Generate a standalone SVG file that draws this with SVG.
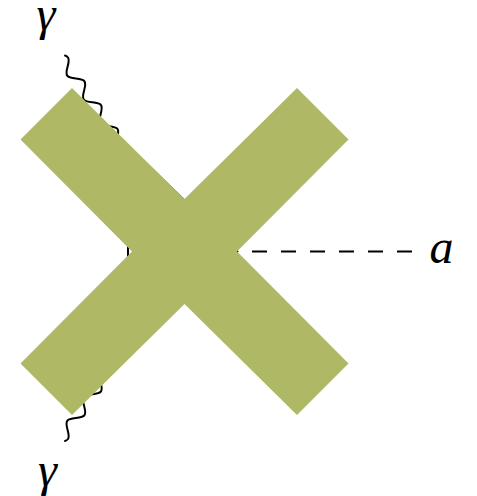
<svg xmlns="http://www.w3.org/2000/svg" width="477" height="496" viewBox="0 0 477 496">
<style>
.line{fill:none;stroke:#000;stroke-width:2;stroke-linecap:round;stroke-linejoin:round}
.dash{fill:none;stroke:#000;stroke-width:2;stroke-dasharray:15 14;stroke-dashoffset:14.5}
.lbl{font-family:"Liberation Serif","Times New Roman",serif;font-style:italic;fill:#000;text-anchor:middle}
.g{font-size:48px}
.a{font-size:48px}
.cross{fill:#AEB865}
</style>
<defs>
<path id="photon" class="line" d="M0,-4.15 Q1.73,-5.5 3.3,-5.5 C8.57,-5.5 12.53,5.5 17.8,5.5 S27.03,-5.5 32.3,-5.5 S41.53,5.5 46.8,5.5 S56.03,-5.5 61.3,-5.5 S70.53,5.5 75.8,5.5 S85.03,-5.5 90.3,-5.5 S99.53,5.5 104.8,5.5 S109.5,-3 110.5,-3"/>
</defs>
<g id="connectors">
<use href="#photon" transform="translate(61.6,57.9) rotate(55.3)"/>
<g transform="translate(0,496.5) scale(1,-1)"><use href="#photon" transform="translate(61.6,57.9) rotate(55.3)"/></g>
<polygon class="line" points="128,146 237.5,251.5 128,350.5"/>
<line class="dash" x1="237.5" y1="251.5" x2="412" y2="251.5"/>
</g>
<g id="gamma-top"><text class="lbl g" x="46" y="30">γ</text></g>
<g id="gamma-bottom"><text class="lbl g" x="47.5" y="486">γ</text></g>
<g id="axion"><text class="lbl a" x="441.5" y="263">a</text></g>
<g id="cross"><polygon class="cross" points="72,88 184.5,199 297,88 348.5,139.5 237,251.5 348.5,363.5 297,415 184.5,304 72,415 20.5,363.5 132,251.5 20.5,139.5"/></g>
</svg>
